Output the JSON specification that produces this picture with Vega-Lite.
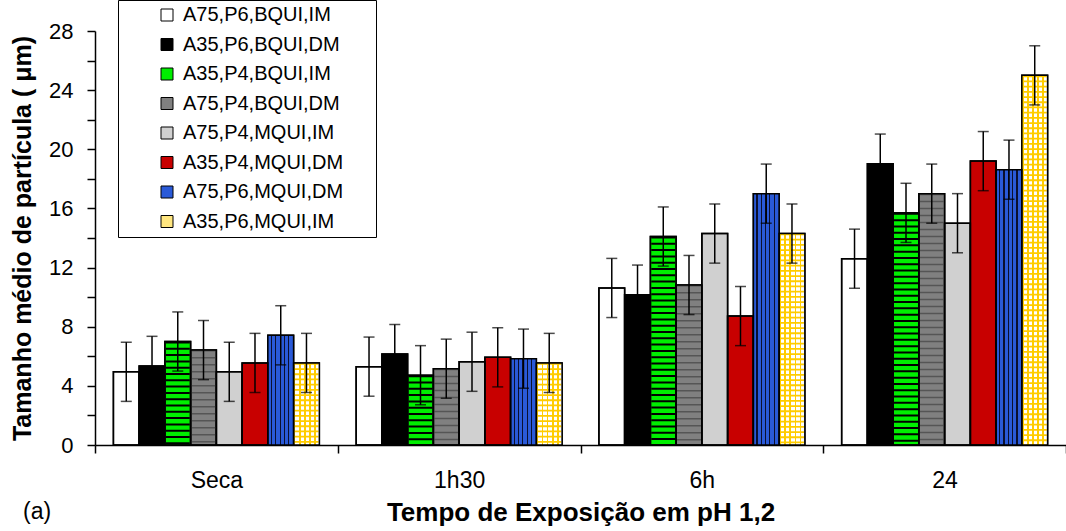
{
  "$schema": "https://vega.github.io/schema/vega-lite/v6.json",
  "width": 971,
  "height": 414,
  "autosize": {"type": "none"},
  "padding": {"left": 95, "top": 31, "right": 0, "bottom": 86},
  "background": "white",
  "config": {
    "font": "Liberation Sans",
    "view": {"stroke": null},
    "axis": {"grid": false, "domainColor": "black", "tickColor": "black", "labelColor": "black", "titleColor": "black", "domainWidth": 1.5, "tickWidth": 1.5}
  },
  "title": {"text": "(a)", "orient": "bottom", "anchor": "start", "frame": "group", "dx": -72, "offset": -24, "fontSize": 23, "fontWeight": "normal", "color": "black", "font": "Liberation Sans"},
  "data": {
    "values": [
      {"Tempo": "Seca", "Serie": "A75,P6,BQUI,IM", "Tamanho": 4.95, "Erro": 2},
      {"Tempo": "Seca", "Serie": "A35,P6,BQUI,DM", "Tamanho": 5.35, "Erro": 2},
      {"Tempo": "Seca", "Serie": "A35,P4,BQUI,IM", "Tamanho": 7.0, "Erro": 2},
      {"Tempo": "Seca", "Serie": "A75,P4,BQUI,DM", "Tamanho": 6.42, "Erro": 2},
      {"Tempo": "Seca", "Serie": "A75,P4,MQUI,IM", "Tamanho": 4.95, "Erro": 2},
      {"Tempo": "Seca", "Serie": "A35,P4,MQUI,DM", "Tamanho": 5.55, "Erro": 2},
      {"Tempo": "Seca", "Serie": "A75,P6,MQUI,DM", "Tamanho": 7.42, "Erro": 2},
      {"Tempo": "Seca", "Serie": "A35,P6,MQUI,IM", "Tamanho": 5.55, "Erro": 2},
      {"Tempo": "1h30", "Serie": "A75,P6,BQUI,IM", "Tamanho": 5.3, "Erro": 2},
      {"Tempo": "1h30", "Serie": "A35,P6,BQUI,DM", "Tamanho": 6.15, "Erro": 2},
      {"Tempo": "1h30", "Serie": "A35,P4,BQUI,IM", "Tamanho": 4.72, "Erro": 2},
      {"Tempo": "1h30", "Serie": "A75,P4,BQUI,DM", "Tamanho": 5.16, "Erro": 2},
      {"Tempo": "1h30", "Serie": "A75,P4,MQUI,IM", "Tamanho": 5.63, "Erro": 2},
      {"Tempo": "1h30", "Serie": "A35,P4,MQUI,DM", "Tamanho": 5.93, "Erro": 2},
      {"Tempo": "1h30", "Serie": "A75,P6,MQUI,DM", "Tamanho": 5.84, "Erro": 2},
      {"Tempo": "1h30", "Serie": "A35,P6,MQUI,IM", "Tamanho": 5.55, "Erro": 2},
      {"Tempo": "6h", "Serie": "A75,P6,BQUI,IM", "Tamanho": 10.62, "Erro": 2},
      {"Tempo": "6h", "Serie": "A35,P6,BQUI,DM", "Tamanho": 10.17, "Erro": 2},
      {"Tempo": "6h", "Serie": "A35,P4,BQUI,IM", "Tamanho": 14.1, "Erro": 2},
      {"Tempo": "6h", "Serie": "A75,P4,BQUI,DM", "Tamanho": 10.82, "Erro": 2},
      {"Tempo": "6h", "Serie": "A75,P4,MQUI,IM", "Tamanho": 14.3, "Erro": 2},
      {"Tempo": "6h", "Serie": "A35,P4,MQUI,DM", "Tamanho": 8.72, "Erro": 2},
      {"Tempo": "6h", "Serie": "A75,P6,MQUI,DM", "Tamanho": 17.0, "Erro": 2},
      {"Tempo": "6h", "Serie": "A35,P6,MQUI,IM", "Tamanho": 14.3, "Erro": 2},
      {"Tempo": "24", "Serie": "A75,P6,BQUI,IM", "Tamanho": 12.6, "Erro": 2},
      {"Tempo": "24", "Serie": "A35,P6,BQUI,DM", "Tamanho": 19.03, "Erro": 2},
      {"Tempo": "24", "Serie": "A35,P4,BQUI,IM", "Tamanho": 15.7, "Erro": 2},
      {"Tempo": "24", "Serie": "A75,P4,BQUI,DM", "Tamanho": 17.0, "Erro": 2},
      {"Tempo": "24", "Serie": "A75,P4,MQUI,IM", "Tamanho": 15.0, "Erro": 2},
      {"Tempo": "24", "Serie": "A35,P4,MQUI,DM", "Tamanho": 19.2, "Erro": 2},
      {"Tempo": "24", "Serie": "A75,P6,MQUI,DM", "Tamanho": 18.62, "Erro": 2},
      {"Tempo": "24", "Serie": "A35,P6,MQUI,IM", "Tamanho": 25.0, "Erro": 2}
    ]
  },
  "encoding": {
    "x": {
      "field": "Tempo", "type": "nominal", "sort": ["Seca", "1h30", "6h", "24"],
      "scale": {"paddingInner": 0, "paddingOuter": 0},
      "axis": {"title": "Tempo de Exposição em pH 1,2", "titleFontSize": 26, "titleFontWeight": "bold", "labelFontSize": 23, "labelAngle": 0, "tickBand": "extent", "tickSize": 8, "labelPadding": 16, "titlePadding": 7}
    },
    "xOffset": {
      "field": "Serie", "type": "nominal",
      "sort": ["A75,P6,BQUI,IM", "A35,P6,BQUI,DM", "A35,P4,BQUI,IM", "A75,P4,BQUI,DM", "A75,P4,MQUI,IM", "A35,P4,MQUI,DM", "A75,P6,MQUI,DM", "A35,P6,MQUI,IM"],
      "scale": {"paddingInner": 0, "paddingOuter": 0.715}
    },
    "y": {
      "field": "Tamanho", "type": "quantitative",
      "scale": {"domain": [0, 28], "nice": false},
      "axis": {"title": "Tamanho médio de partícula ( μm)", "titleFontSize": 25, "titleFontWeight": "bold", "labelFontSize": 22, "values": [0, 2, 4, 6, 8, 10, 12, 14, 16, 18, 20, 22, 24, 26, 28], "labelExpr": "datum.value % 4 == 0 ? datum.label : ''", "tickSize": 8, "labelPadding": 14, "titlePadding": 13}
    }
  },
  "layer": [
    {
      "mark": {"type": "bar", "stroke": "black", "strokeWidth": 1.5},
      "encoding": {
        "color": {
          "field": "Serie", "type": "nominal",
          "sort": ["A75,P6,BQUI,IM", "A35,P6,BQUI,DM", "A35,P4,BQUI,IM", "A75,P4,BQUI,DM", "A75,P4,MQUI,IM", "A35,P4,MQUI,DM", "A75,P6,MQUI,DM", "A35,P6,MQUI,IM"],
          "scale": {"range": ["#ffffff", "#000000", "#00ee00", "#808080", "#d0d0d0", "#c80000", "#2a5ad8", "#ffe680"]},
          "legend": {"orient": "none", "legendX": 23, "legendY": -31, "title": "\u00a0", "titleOrient": "right", "titleFontSize": 10, "titlePadding": 28, "labelFontSize": 20, "labelLimit": 400, "labelColor": "black", "symbolType": "square", "symbolSize": 144, "symbolStrokeColor": "black", "symbolStrokeWidth": 1, "rowPadding": 9.5, "padding": 5, "symbolOffset": 34, "labelOffset": 6, "strokeColor": "black", "fillColor": "white"}
        }
      }
    },
    {
      "transform": [{"filter": "datum.Serie == 'A35,P4,BQUI,IM'"}],
      "mark": {"type": "rule", "color": "black", "strokeWidth": 24, "strokeDash": [2, 4.3]},
      "encoding": {"y2": {"datum": 0}}
    },
    {
      "transform": [{"filter": "datum.Serie == 'A75,P4,BQUI,DM'"}],
      "mark": {"type": "rule", "color": "#555555", "strokeWidth": 24, "strokeDash": [1.5, 5.5]},
      "encoding": {"y2": {"datum": 0}}
    },
    {
      "transform": [{"filter": "datum.Serie == 'A75,P6,MQUI,DM'"}],
      "mark": {"type": "bar", "fill": {"gradient": "linear", "x1": 0, "x2": 1, "y1": 0, "y2": 0, "stops": [
        {"offset": 0, "color": "#2a5ad8"}, {"offset": 0.12, "color": "#2a5ad8"}, {"offset": 0.12, "color": "#0a1030"}, {"offset": 0.165, "color": "#0a1030"}, {"offset": 0.165, "color": "#2a5ad8"},
        {"offset": 0.287, "color": "#2a5ad8"}, {"offset": 0.287, "color": "#0a1030"}, {"offset": 0.332, "color": "#0a1030"}, {"offset": 0.332, "color": "#2a5ad8"},
        {"offset": 0.453, "color": "#2a5ad8"}, {"offset": 0.453, "color": "#0a1030"}, {"offset": 0.498, "color": "#0a1030"}, {"offset": 0.498, "color": "#2a5ad8"},
        {"offset": 0.62, "color": "#2a5ad8"}, {"offset": 0.62, "color": "#0a1030"}, {"offset": 0.665, "color": "#0a1030"}, {"offset": 0.665, "color": "#2a5ad8"},
        {"offset": 0.787, "color": "#2a5ad8"}, {"offset": 0.787, "color": "#0a1030"}, {"offset": 0.832, "color": "#0a1030"}, {"offset": 0.832, "color": "#2a5ad8"},
        {"offset": 1, "color": "#2a5ad8"}]}},
      "encoding": {}
    },
    {
      "transform": [{"filter": "datum.Serie == 'A35,P6,MQUI,IM'"}],
      "mark": {"type": "bar", "fill": {"gradient": "linear", "x1": 0, "x2": 1, "y1": 0, "y2": 0, "stops": [
        {"offset": 0, "color": "#ffcc00"}, {"offset": 0.07, "color": "#ffcc00"}, {"offset": 0.07, "color": "#ffffff"}, {"offset": 0.2, "color": "#ffffff"},
        {"offset": 0.2, "color": "#ffcc00"}, {"offset": 0.27, "color": "#ffcc00"}, {"offset": 0.27, "color": "#ffffff"}, {"offset": 0.4, "color": "#ffffff"},
        {"offset": 0.4, "color": "#ffcc00"}, {"offset": 0.47, "color": "#ffcc00"}, {"offset": 0.47, "color": "#ffffff"}, {"offset": 0.6, "color": "#ffffff"},
        {"offset": 0.6, "color": "#ffcc00"}, {"offset": 0.67, "color": "#ffcc00"}, {"offset": 0.67, "color": "#ffffff"}, {"offset": 0.8, "color": "#ffffff"},
        {"offset": 0.8, "color": "#ffcc00"}, {"offset": 0.87, "color": "#ffcc00"}, {"offset": 0.87, "color": "#ffffff"}, {"offset": 1, "color": "#ffffff"}]}},
      "encoding": {}
    },
    {
      "transform": [{"filter": "datum.Serie == 'A35,P6,MQUI,IM'"}],
      "mark": {"type": "rule", "color": "#ffcc00", "strokeWidth": 24, "strokeDash": [1.8, 3.4]},
      "encoding": {"y2": {"datum": 0}}
    },
    {
      "mark": {"type": "bar", "fill": "transparent", "stroke": "black", "strokeWidth": 1.5},
      "encoding": {}
    },
    {
      "mark": {"type": "errorbar", "color": "black", "ticks": {"size": 11}, "thickness": 1.5},
      "encoding": {"yError": {"field": "Erro"}}
    }
  ]
}
